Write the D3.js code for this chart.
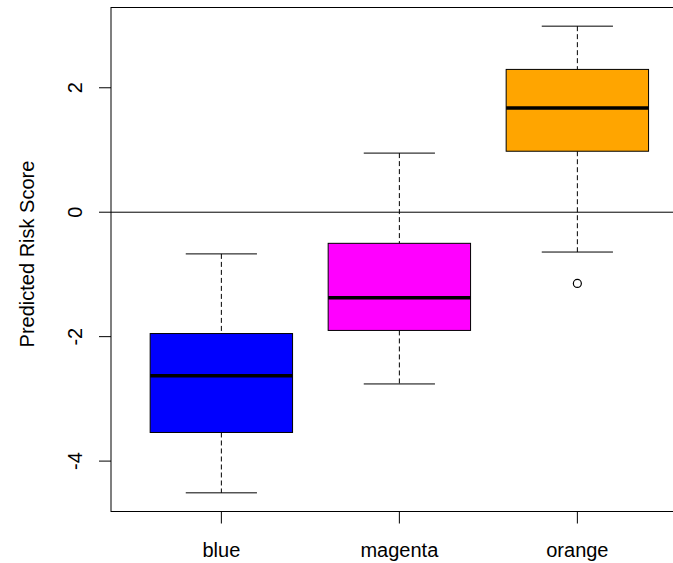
<!DOCTYPE html>
<html>
<head>
<meta charset="utf-8">
<script src="https://cdn.jsdelivr.net/npm/d3@7"></script>
<style>
  html, body { margin: 0; padding: 0; background: #fff; }
  svg { display: block; }
  text { font-family: "Liberation Sans", Arial, Helvetica, sans-serif; fill: #000; }
</style>
</head>
<body>
<svg id="chart" width="673" height="563"></svg>
<script>
// boxplot stats, one entry per group
const groups    = ['blue', 'magenta', 'orange'];
const whiskerLo = [-4.51, -2.76, -0.64];
const q1        = [-3.54, -1.90, 0.98];
const median    = [-2.63, -1.375, 1.675];
const q3        = [-1.95, -0.50, 2.295];
const whiskerHi = [-0.67, 0.95, 2.99];
const outliers  = [[], [], [-1.145]];
const yTicks    = [-4, -2, 0, 2];
const boxFill   = ['#0000ff', '#ff00ff', '#ffa500'];

const L = 111, T = 7.5, B = 511.5;
const FS = 20;

const svg = d3.select('#chart');

// R style: 4% padding around data range
const lo = d3.min(whiskerLo.concat(outliers.flat()));
const hi = d3.max(whiskerHi.concat(outliers.flat()));
const pad = (hi - lo) * 0.04;
const y = d3.scaleLinear().domain([lo - pad, hi + pad]).range([B, T]);

const n = groups.length;
const step = 178;
const x = d3.scaleLinear().domain([0.5 - 0.12, n + 0.5 + 0.12])
  .range([L, L + (n + 0.24) * step]);
const R = x.range()[1];

const data = groups.map((g, i) => ({
  g, i: i + 1, lo: whiskerLo[i], q1: q1[i], med: median[i], q3: q3[i], hi: whiskerHi[i],
  out: outliers[i], fill: boxFill[i],
}));

const bw = 0.4, cw = 0.2;

// reference line at zero
svg.append('line')
  .attr('x1', L).attr('x2', R).attr('y1', y(0)).attr('y2', y(0))
  .attr('stroke', '#000').attr('stroke-width', 1);

const gB = svg.append('g').selectAll('g').data(data).join('g');

// whiskers (dashed)
gB.append('line')
  .attr('x1', d => x(d.i)).attr('x2', d => x(d.i))
  .attr('y1', d => y(d.hi)).attr('y2', d => y(d.q3))
  .attr('stroke', '#000').attr('stroke-dasharray', '5,3');
gB.append('line')
  .attr('x1', d => x(d.i)).attr('x2', d => x(d.i))
  .attr('y1', d => y(d.q1)).attr('y2', d => y(d.lo))
  .attr('stroke', '#000').attr('stroke-dasharray', '5,3');

// staples
['hi', 'lo'].forEach(k => {
  gB.append('line')
    .attr('x1', d => x(d.i - cw)).attr('x2', d => x(d.i + cw))
    .attr('y1', d => y(d[k])).attr('y2', d => y(d[k]))
    .attr('stroke', '#000').attr('stroke-width', 1);
});

// boxes
gB.append('rect')
  .attr('x', d => x(d.i - bw)).attr('width', d => x(d.i + bw) - x(d.i - bw))
  .attr('y', d => y(d.q3)).attr('height', d => y(d.q1) - y(d.q3))
  .attr('fill', d => d.fill).attr('stroke', '#000').attr('stroke-width', 1);

// medians
gB.append('line')
  .attr('x1', d => x(d.i - bw)).attr('x2', d => x(d.i + bw))
  .attr('y1', d => y(d.med)).attr('y2', d => y(d.med))
  .attr('stroke', '#000').attr('stroke-width', 3.5);

// outliers
gB.selectAll('circle').data(d => d.out.map(v => ({ i: d.i, v }))).join('circle')
  .attr('cx', d => x(d.i)).attr('cy', d => y(d.v)).attr('r', 4)
  .attr('fill', 'none').attr('stroke', '#000').attr('stroke-width', 1.2);

// frame (right side falls outside the window, as in the reference)
svg.append('rect')
  .attr('x', L).attr('y', T).attr('width', R - L).attr('height', B - T)
  .attr('fill', 'none').attr('stroke', '#000').attr('stroke-width', 1);

// y axis
const gy = svg.append('g');
gy.selectAll('line').data(yTicks).join('line')
  .attr('x1', L - 12).attr('x2', L).attr('y1', d => y(d)).attr('y2', d => y(d))
  .attr('stroke', '#000');
gy.selectAll('text').data(yTicks).join('text')
  .attr('transform', d => `translate(82,${y(d)}) rotate(-90)`)
  .attr('text-anchor', 'middle').attr('font-size', FS)
  .text(d => d);

// x axis
const gx = svg.append('g');
gx.selectAll('line').data(data).join('line')
  .attr('x1', d => x(d.i)).attr('x2', d => x(d.i)).attr('y1', B).attr('y2', B + 12)
  .attr('stroke', '#000');
gx.selectAll('text').data(data).join('text')
  .attr('x', d => x(d.i)).attr('y', 557)
  .attr('text-anchor', 'middle').attr('font-size', FS)
  .text(d => d.g);

svg.append('text')
  .attr('transform', `translate(34,254) rotate(-90)`)
  .attr('text-anchor', 'middle').attr('font-size', FS)
  .text('Predicted Risk Score');
</script>
</body>
</html>
